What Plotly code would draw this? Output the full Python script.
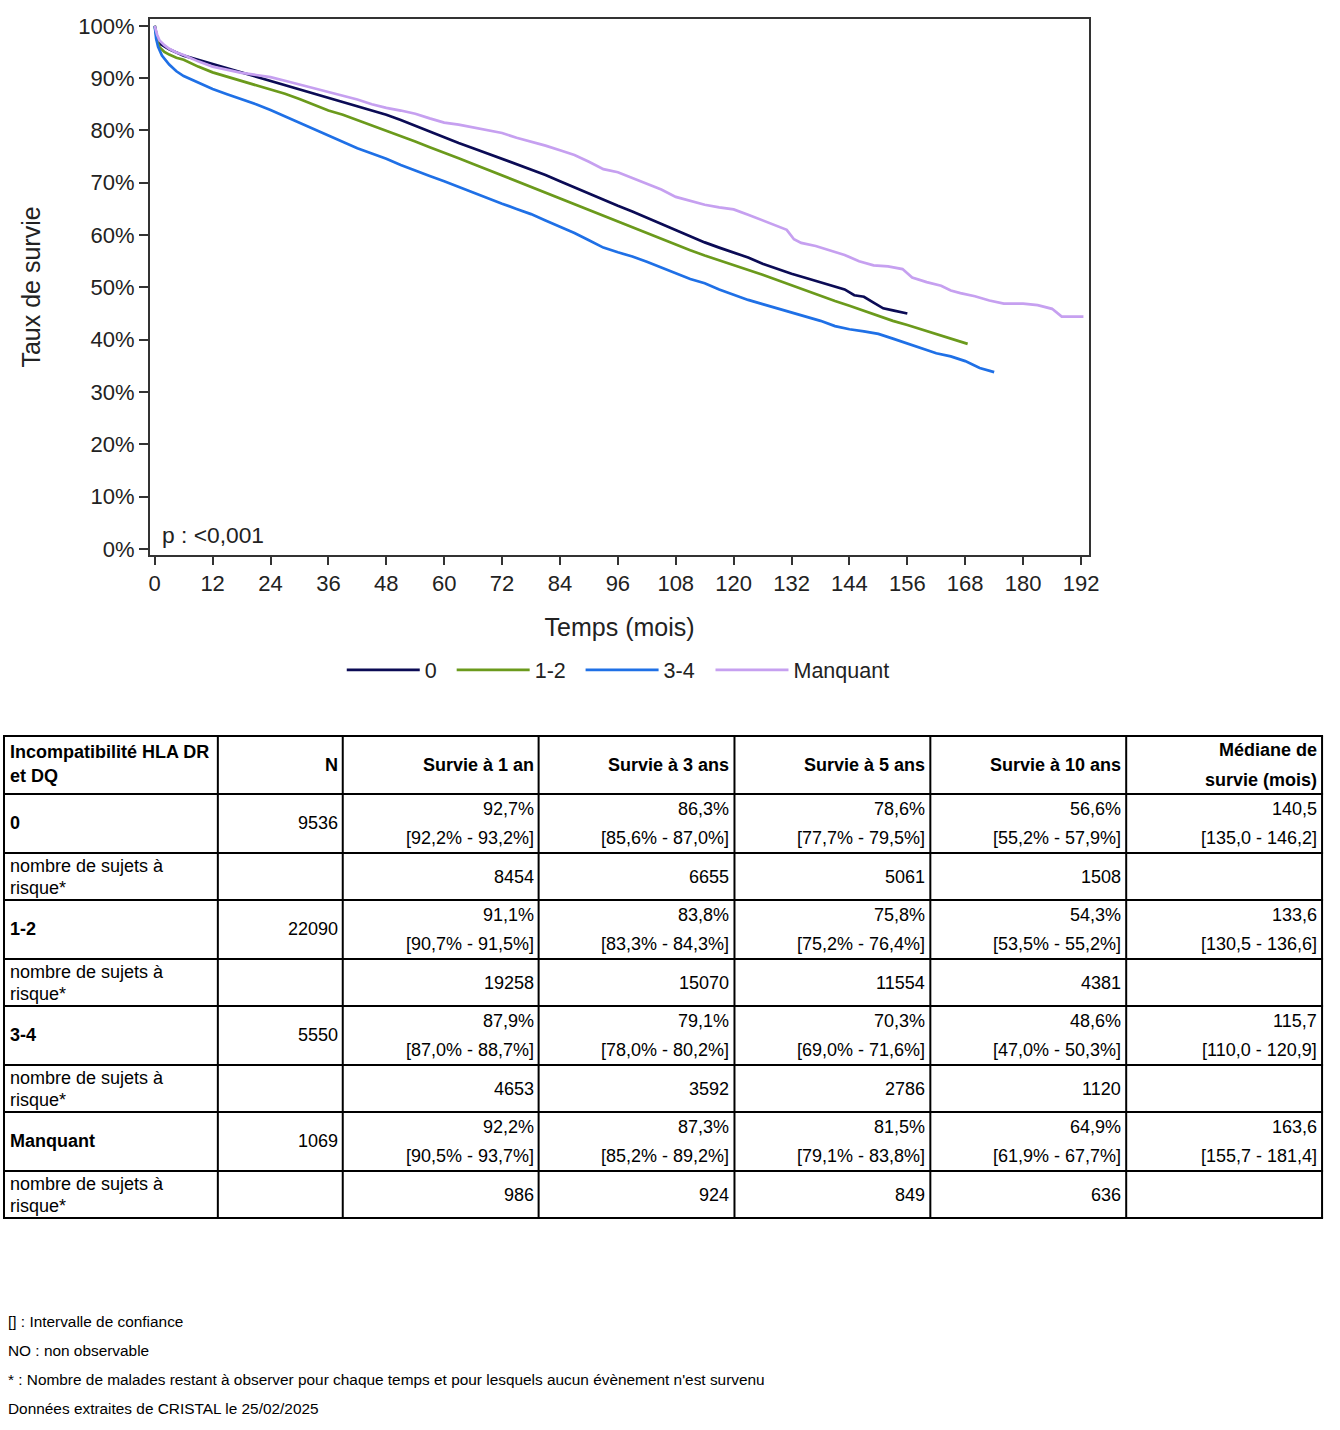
import plotly.graph_objects as go

# ---------------- Survival curves ----------------
t_0 = [0, 0.5, 1, 2, 3, 4.5, 6, 9, 12, 15, 18, 21, 24, 27, 30, 33, 36, 39, 42, 45, 48, 51, 54, 57, 60,
       63, 66, 69, 72, 75, 78, 81, 84, 87, 90, 93, 96, 99, 102, 105, 108, 111, 114, 117, 120, 123, 126,
       129, 132, 135, 138, 141, 143, 145, 147, 149, 151, 153, 156]
s_0 = [100, 97.8, 96.6, 96.0, 95.5, 94.9, 94.3, 93.5, 92.7, 91.9, 91.0, 90.2, 89.5, 88.7, 87.9, 87.1,
       86.3, 85.5, 84.7, 83.9, 83.0, 82.0, 80.9, 79.8, 78.6, 77.6, 76.6, 75.6, 74.6, 73.6, 72.6, 71.5,
       70.3, 69.1, 67.9, 66.8, 65.6, 64.5, 63.3, 62.1, 60.9, 59.7, 58.6, 57.6, 56.6, 55.7, 54.5, 53.5,
       52.6, 51.8, 51.0, 50.2, 49.6, 48.5, 48.2, 47.1, 46.0, 45.6, 45.0]

t_12 = [0, 0.5, 1, 2, 3, 4.5, 6, 9, 12, 15, 18, 21, 24, 27, 30, 33, 36, 39, 42, 45, 48, 51, 54, 57, 60,
        63, 66, 69, 72, 75, 78, 81, 84, 87, 90, 93, 96, 99, 102, 105, 108, 111, 114, 117, 120, 123, 126,
        129, 132, 135, 138, 141, 144, 147, 150, 153, 156, 159, 162, 165, 168.5]
s_12 = [100, 97.2, 95.9, 95.0, 94.5, 93.9, 93.5, 92.2, 91.1, 90.3, 89.4, 88.6, 87.8, 87.0, 86.0, 84.9,
        83.8, 83.0, 82.0, 81.0, 80.0, 78.9, 77.9, 76.8, 75.8, 74.7, 73.6, 72.5, 71.4, 70.3, 69.2, 68.1,
        67.0, 65.9, 64.8, 63.7, 62.6, 61.4, 60.3, 59.2, 58.1, 57.1, 56.1, 55.2, 54.3, 53.3, 52.4, 51.4,
        50.4, 49.3, 48.3, 47.4, 46.5, 45.5, 44.6, 43.6, 42.8, 41.9, 41.0, 40.2, 39.2]

t_34 = [0, 0.3, 0.7, 1.5, 3, 4.5, 6, 9, 12, 15, 18, 21, 24, 27, 30, 33, 36, 39, 42, 45, 48, 51, 54, 57,
        60, 63, 66, 69, 72, 75, 78, 81, 84, 87, 90, 93, 96, 99, 102, 105, 108, 111, 114, 117, 120, 123,
        126, 129, 132, 135, 138, 141, 144, 147, 150, 153, 156, 159, 162, 165, 168, 171, 174]
s_34 = [100, 97.5, 96.0, 94.3, 92.6, 91.3, 90.4, 89.1, 87.9, 86.9, 86.0, 85.0, 83.9, 82.7, 81.5, 80.3,
        79.1, 77.8, 76.6, 75.6, 74.6, 73.4, 72.3, 71.3, 70.3, 69.2, 68.1, 67.0, 66.0, 65.0, 64.0, 62.8,
        61.6, 60.4, 59.0, 57.6, 56.7, 55.9, 54.9, 53.8, 52.7, 51.6, 50.8, 49.6, 48.6, 47.6, 46.8, 46.0,
        45.2, 44.5, 43.6, 42.6, 42.0, 41.6, 41.1, 40.2, 39.3, 38.3, 37.4, 36.8, 35.9, 34.6, 33.8]

t_na = [0, 0.5, 1, 2, 3, 4.5, 6, 9, 12, 15, 18, 21, 24, 27, 30, 33, 36, 39, 42, 45, 48, 51, 54, 57, 60,
        63, 66, 69, 72, 75, 78, 81, 84, 87, 90, 93, 96, 99, 102, 105, 108, 111, 114, 117, 120, 123, 126,
        129, 131, 132.5, 134, 137, 140, 143, 146, 149, 152, 155, 157, 160, 163, 165, 167, 170, 173, 176,
        180, 183, 186, 188, 192.5]
s_na = [100, 98.3, 97.2, 96.3, 95.6, 94.9, 94.4, 93.2, 92.2, 91.6, 91.0, 90.6, 90.2, 89.5, 88.8, 88.1,
        87.3, 86.6, 85.9, 85.0, 84.3, 83.8, 83.2, 82.3, 81.5, 81.1, 80.6, 80.0, 79.5, 78.6, 77.9, 77.1,
        76.2, 75.3, 74.0, 72.6, 72.0, 70.9, 69.8, 68.7, 67.3, 66.5, 65.8, 65.3, 64.9, 63.9, 62.8, 61.7,
        61.0, 59.2, 58.5, 57.9, 57.1, 56.2, 55.0, 54.2, 54.0, 53.5, 51.9, 51.0, 50.3, 49.4, 48.9, 48.3,
        47.5, 46.9, 46.9, 46.6, 45.9, 44.4, 44.4]

series_names = ["0", "1-2", "3-4", "Manquant"]
series_t = [t_0, t_12, t_34, t_na]
series_s = [s_0, s_12, s_34, s_na]
series_colors = ["#0b0b55", "#6b9a1c", "#1f70e6", "#c6a0f0"]
legend_line_start = [347, 457, 586, 716]   # pixel x of each legend entry

x_ticks = list(range(0, 193, 12))
y_ticks = list(range(0, 101, 10))
y_ticktext = [f"{v}%" for v in y_ticks]

# ---------------- Table data ----------------
groups = ["0", "1-2", "3-4", "Manquant"]
n_group = [9536, 22090, 5550, 1069]
surv_1 = [92.7, 91.1, 87.9, 92.2]
ci_1 = [(92.2, 93.2), (90.7, 91.5), (87.0, 88.7), (90.5, 93.7)]
surv_3 = [86.3, 83.8, 79.1, 87.3]
ci_3 = [(85.6, 87.0), (83.3, 84.3), (78.0, 80.2), (85.2, 89.2)]
surv_5 = [78.6, 75.8, 70.3, 81.5]
ci_5 = [(77.7, 79.5), (75.2, 76.4), (69.0, 71.6), (79.1, 83.8)]
surv_10 = [56.6, 54.3, 48.6, 64.9]
ci_10 = [(55.2, 57.9), (53.5, 55.2), (47.0, 50.3), (61.9, 67.7)]
median = [140.5, 133.6, 115.7, 163.6]
median_ci = [(135.0, 146.2), (130.5, 136.6), (110.0, 120.9), (155.7, 181.4)]
at_risk = [[8454, 6655, 5061, 1508],
           [19258, 15070, 11554, 4381],
           [4653, 3592, 2786, 1120],
           [986, 924, 849, 636]]
header_cols = ["N", "Survie à 1 an", "Survie à 3 ans", "Survie à 5 ans", "Survie à 10 ans"]
footnotes = ["[] : Intervalle de confiance",
             "NO : non observable",
             "* : Nombre de malades restant à observer pour chaque temps et pour lesquels aucun évènement n'est survenu",
             "Données extraites de CRISTAL le 25/02/2025"]

W, H = 1340, 1430
FONT = "Liberation Sans, Arial, sans-serif"


def px(x):
    return ((x - 1) / 0.9925) / W


def py(y):
    return 1 - ((y - 6) / 0.9917) / H


def fr(v, d=1):
    return f"{v:.{d}f}".replace(".", ",")


fig = go.Figure()
legend_layout = {}
for k, (name, t, s, c) in enumerate(zip(series_names, series_t, series_s, series_colors)):
    lg = "legend" if k == 0 else f"legend{k + 1}"
    fig.add_trace(go.Scatter(x=t, y=s, mode="lines", name=name, legend=lg,
                             line=dict(color=c, width=2.7)))
    legend_layout[lg] = dict(orientation="h", x=px(legend_line_start[k] - 5), y=py(671),
                             xanchor="left", yanchor="middle", bgcolor="rgba(0,0,0,0)",
                             font=dict(family=FONT, size=21.5, color="#222222"), itemwidth=73)

fig.update_layout(
    width=W, height=H,
    margin=dict(l=0, r=0, t=0, b=0),
    paper_bgcolor="white", plot_bgcolor="white",
    font=dict(family=FONT, color="#222222", size=21),
    showlegend=True,
    **legend_layout,
)
fig.update_xaxes(domain=[px(150), px(1090)], range=[-1.0, 193.7], tickvals=x_ticks,
                 showgrid=False, zeroline=False, showline=True, linecolor="#333333", linewidth=2,
                 mirror=True, ticks="outside", ticklen=8, tickwidth=1.5, tickcolor="#333333",
                 tickfont=dict(size=22, color="#222222"),
                 title=dict(text="Temps (mois)", font=dict(size=25, color="#222222"), standoff=23))
fig.update_yaxes(domain=[py(556), py(20)], range=[-1.15, 101.3], tickvals=y_ticks,
                 ticktext=y_ticktext, showgrid=False, zeroline=False, showline=True,
                 linecolor="#333333", linewidth=2, mirror=True, ticks="outside", ticklen=9,
                 tickwidth=1.5, tickcolor="#333333", tickfont=dict(size=22, color="#222222"),
                 title=dict(text="Taux de survie", font=dict(size=25, color="#222222"), standoff=30))

ann = []


def text(x, y, s, anchor="left", bold=False, size=18):
    ann.append(dict(xref="paper", yref="paper", x=px(x), y=py(y), text=(f"<b>{s}</b>" if bold else s),
                    showarrow=False, xanchor=anchor, yanchor="middle",
                    font=dict(family=FONT, size=size, color="black")))


# p-value
ann.append(dict(xref="paper", yref="paper", x=px(160), y=py(536), text="p : <0,001", showarrow=False,
                xanchor="left", yanchor="middle", font=dict(family=FONT, size=22.8, color="#222222")))

# ---------------- Table ----------------
col_x = [4, 218, 343, 539, 735, 931, 1127, 1323]
row_y = [737, 795, 854, 901, 960, 1007, 1066, 1113, 1172, 1219]
shapes = []
for y in row_y:
    shapes.append(dict(type="line", xref="paper", yref="paper", x0=px(col_x[0] - 1), x1=px(col_x[-1] + 1),
                       y0=py(y), y1=py(y), line=dict(color="black", width=2)))
for x in col_x:
    shapes.append(dict(type="line", xref="paper", yref="paper", x0=px(x), x1=px(x),
                       y0=py(row_y[0]), y1=py(row_y[-1]), line=dict(color="black", width=2)))

# header
text(8, 753, "Incompatibilité HLA DR", bold=True)
text(8, 777, "et DQ", bold=True)
for j, h in enumerate(header_cols):
    text(col_x[j + 2] - 3, 766, h, anchor="right", bold=True)
text(col_x[7] - 3, 751, "Médiane de", anchor="right", bold=True)
text(col_x[7] - 3, 781, "survie (mois)", anchor="right", bold=True)

surv_all = [surv_1, surv_3, surv_5, surv_10]
ci_all = [ci_1, ci_3, ci_5, ci_10]
for i, g in enumerate(groups):
    top = row_y[1 + 2 * i]
    rtop = row_y[2 + 2 * i]
    text(8, top + 29, g, bold=True)
    text(col_x[2] - 3, top + 29, str(n_group[i]), anchor="right")
    for j in range(4):
        sv = surv_all[j][i]
        lo, hi = ci_all[j][i]
        text(col_x[j + 3] - 3, top + 15, f"{fr(sv)}%", anchor="right")
        text(col_x[j + 3] - 3, top + 44, f"[{fr(lo)}% - {fr(hi)}%]", anchor="right")
    text(col_x[7] - 3, top + 15, fr(median[i]), anchor="right")
    text(col_x[7] - 3, top + 44, f"[{fr(median_ci[i][0])} - {fr(median_ci[i][1])}]", anchor="right")
    # at-risk row
    text(8, rtop + 13, "nombre de sujets à")
    text(8, rtop + 35, "risque*")
    for j in range(4):
        text(col_x[j + 3] - 3, rtop + 24, str(at_risk[i][j]), anchor="right")

# footnotes
for k, f in enumerate(footnotes):
    text(6, 1323 + 29 * k, f, size=15.4)

fig.update_layout(annotations=ann, shapes=shapes)
fig.write_html("out.html", config={"displayModeBar": False},
               post_script="document.body.style.margin='0';document.body.style.overflow='hidden';")
